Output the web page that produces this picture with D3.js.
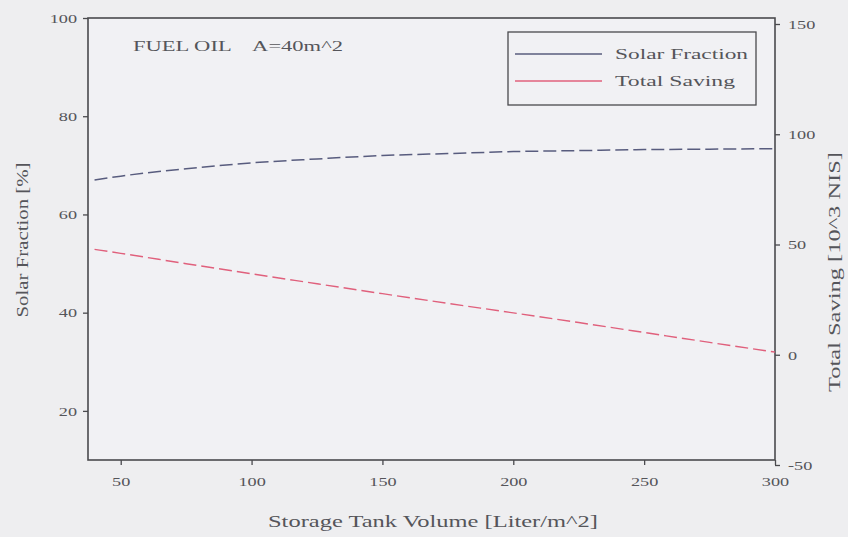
<!DOCTYPE html>
<html><head><meta charset="utf-8">
<script src="https://cdn.jsdelivr.net/npm/d3@7"></script>
<style>
body{margin:0;background:#eeeef0;}
svg{display:block;font-family:"Liberation Serif","DejaVu Serif",serif;}
</style></head><body>
<svg id="c" width="848" height="537"></svg>
<script>
const volumes = [40, 50, 75, 100, 125, 150, 175, 200, 225, 250, 275, 300];
const solarFraction = [67.0, 67.8, 69.3, 70.5, 71.3, 72.0, 72.4, 72.8, 73.0, 73.2, 73.3, 73.4];
const totalSaving = [47.8, 46.0, 41.3, 36.7, 32.2, 27.7, 23.3, 19.0, 14.6, 10.1, 5.6, 1.2];
const xTicks = [50, 100, 150, 200, 250, 300];
const leftTicks = [20, 40, 60, 80, 100];
const rightTicks = [-50, 0, 50, 100, 150];
const seriesNames = ["Solar Fraction", "Total Saving"];

const svg = d3.select("#c");
const m = {l: 88, r: 775, t: 18, b: 460};
const x = d3.scaleLinear().domain([37.5, 300]).range([m.l, m.r]);
const yL = d3.scaleLinear().domain([10, 100]).range([m.b, m.t]);
const yR = d3.scaleLinear().domain([-50, 150]).range([m.b + 5, m.t + 6]);
const axisCol = "#4a4a4e", textCol = "#55555a";

function stretch(sel, k){
  sel.each(function(){
    const w = this.getComputedTextLength();
    if (w > 0) d3.select(this).attr("textLength", w * k).attr("lengthAdjust", "spacingAndGlyphs");
  });
}

svg.append("rect").attr("width", 848).attr("height", 537).attr("fill", "#eeeef0");
svg.append("rect").attr("x", m.l).attr("y", m.t).attr("width", m.r - m.l).attr("height", m.b - m.t)
  .attr("fill", "#f1f1f4").attr("stroke", axisCol).attr("stroke-width", 1.6);

function style(g){
  g.select(".domain").remove();
  g.selectAll("line").attr("stroke", axisCol).attr("stroke-width", 1.3);
  g.selectAll("text").attr("fill", textCol).attr("font-size", 13.5).attr("font-family", "Liberation Serif, serif");
}
const fmt = d => d < 0 ? "-" + Math.abs(d) : String(d);
const gx = svg.append("g").attr("transform", `translate(0,${m.b})`)
  .call(d3.axisBottom(x).tickValues(xTicks).tickSize(5).tickPadding(11).tickFormat(fmt)).call(style);
const gl = svg.append("g").attr("transform", `translate(${m.l},0)`)
  .call(d3.axisLeft(yL).tickValues(leftTicks).tickSize(5).tickPadding(6).tickFormat(fmt)).call(style);
const gr = svg.append("g").attr("transform", `translate(${m.r},0)`)
  .call(d3.axisRight(yR).tickValues(rightTicks).tickSize(5).tickPadding(8).tickFormat(fmt)).call(style);
[gx, gl, gr].forEach(g => stretch(g.selectAll("text"), 1.35));

const colSF = "#585c7e", colTS = "#e0607c";
const lineSF = d3.line().x((d,i)=>x(volumes[i])).y(d=>yL(d)).curve(d3.curveMonotoneX);
const lineTS = d3.line().x((d,i)=>x(volumes[i])).y(d=>yR(d)).curve(d3.curveMonotoneX);
svg.append("path").datum(solarFraction).attr("d", lineSF).attr("fill", "none")
  .attr("stroke", colSF).attr("stroke-width", 1.5).attr("stroke-dasharray", "13,5");
svg.append("path").datum(totalSaving).attr("d", lineTS).attr("fill", "none")
  .attr("stroke", colTS).attr("stroke-width", 1.4).attr("stroke-dasharray", "13,5");

// legend
const lg = svg.append("g");
lg.append("rect").attr("x", 508).attr("y", 32).attr("width", 248).attr("height", 73)
  .attr("fill", "#f1f1f4").attr("stroke", axisCol).attr("stroke-width", 1.3);
const legendWidths = [133, 120];
[colSF, colTS].forEach((c, i) => {
  lg.append("line").attr("x1", 515).attr("x2", 602).attr("y1", 54 + i*27).attr("y2", 54 + i*27)
    .attr("stroke", c).attr("stroke-width", 1.3);
  lg.append("text").attr("x", 615).attr("y", 59 + i*27).text(seriesNames[i])
    .attr("font-size", 15.5).attr("fill", textCol)
    .attr("textLength", legendWidths[i]).attr("lengthAdjust", "spacingAndGlyphs");
});

svg.append("text").attr("x", 133).attr("y", 51).attr("font-size", 15.5).attr("fill", textCol)
  .attr("xml:space", "preserve")
  .attr("textLength", 210).attr("lengthAdjust", "spacingAndGlyphs").text("FUEL OIL    A=40m^2");

svg.append("text").attr("transform", "translate(28,240) rotate(-90)").attr("text-anchor", "middle")
  .attr("font-size", 16).attr("fill", textCol)
  .attr("textLength", 155).attr("lengthAdjust", "spacingAndGlyphs").text("Solar Fraction [%]");
svg.append("text").attr("transform", "translate(840,272) rotate(-90)").attr("text-anchor", "middle")
  .attr("font-size", 16).attr("fill", textCol)
  .attr("textLength", 240).attr("lengthAdjust", "spacingAndGlyphs").text("Total Saving [10^3 NIS]");
svg.append("text").attr("x", 433).attr("y", 527).attr("text-anchor", "middle")
  .attr("font-size", 16.5).attr("fill", textCol)
  .attr("textLength", 330).attr("lengthAdjust", "spacingAndGlyphs").text("Storage Tank Volume [Liter/m^2]");
</script>
</body></html>
